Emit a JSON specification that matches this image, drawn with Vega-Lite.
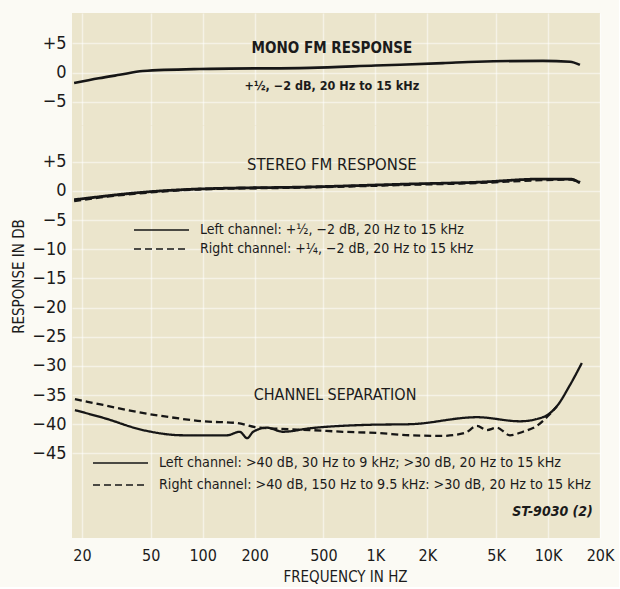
{
  "$schema": "https://vega.github.io/schema/vega-lite/v6.json",
  "background": "#fbfaf4",
  "padding": {"left": 10, "top": 13, "right": 5, "bottom": 3},
  "autosize": {"type": "pad"},
  "spacing": 0,
  "bounds": "flush",
  "config": {
    "view": {"stroke": null, "fill": "#ebe5cc"},
    "font": "DejaVu Sans Condensed",
    "axis": {
      "ticks": false,
      "domain": false,
      "labelColor": "#1b1b1b",
      "titleColor": "#1b1b1b",
      "labelFont": "DejaVu Sans Condensed",
      "titleFont": "DejaVu Sans Condensed",
      "gridColor": "#ffffff",
      "gridOpacity": 0.5,
      "gridWidth": 1.5
    },
    "text": {"font": "DejaVu Sans Condensed", "color": "#1b1b1b"},
    "legend": {
      "orient": "none",
      "title": null,
      "padding": 0,
      "symbolType": "stroke",
      "symbolSize": 3025,
      "symbolStrokeColor": "#161616",
      "symbolStrokeWidth": 1.6,
      "labelFont": "DejaVu Sans Condensed",
      "labelFontSize": 13,
      "labelColor": "#1b1b1b",
      "labelOffset": 10,
      "labelLimit": 0
    }
  },
  "datasets": {
    "mono": [
      {"freq": 18, "db": -1.8},
      {"freq": 25, "db": -1.0},
      {"freq": 33, "db": -0.4},
      {"freq": 45, "db": 0.25},
      {"freq": 96, "db": 0.6},
      {"freq": 418, "db": 0.8},
      {"freq": 1000, "db": 1.2},
      {"freq": 2460, "db": 1.6},
      {"freq": 3880, "db": 1.85},
      {"freq": 9340, "db": 2.0},
      {"freq": 13400, "db": 1.85},
      {"freq": 15300, "db": 1.3}
    ],
    "stereo": [
      {"channel": "Left", "freq": 18, "db": -1.5},
      {"channel": "Left", "freq": 25, "db": -1.0},
      {"channel": "Left", "freq": 40, "db": -0.35},
      {"channel": "Left", "freq": 96, "db": 0.35},
      {"channel": "Left", "freq": 418, "db": 0.7},
      {"channel": "Left", "freq": 1590, "db": 1.2},
      {"channel": "Left", "freq": 3880, "db": 1.5},
      {"channel": "Left", "freq": 9340, "db": 2.05},
      {"channel": "Left", "freq": 13400, "db": 2.05},
      {"channel": "Left", "freq": 15300, "db": 1.4},
      {"channel": "Right", "freq": 18, "db": -1.7},
      {"channel": "Right", "freq": 25, "db": -1.1},
      {"channel": "Right", "freq": 40, "db": -0.45},
      {"channel": "Right", "freq": 96, "db": 0.3},
      {"channel": "Right", "freq": 418, "db": 0.65},
      {"channel": "Right", "freq": 1590, "db": 1.1},
      {"channel": "Right", "freq": 3880, "db": 1.4},
      {"channel": "Right", "freq": 9340, "db": 1.9},
      {"channel": "Right", "freq": 13400, "db": 2.0},
      {"channel": "Right", "freq": 15300, "db": 1.5}
    ],
    "separation": [
      {"channel": "Left", "freq": 18.2, "db": -37.6},
      {"channel": "Left", "freq": 26.5, "db": -38.9},
      {"channel": "Left", "freq": 45, "db": -41.0},
      {"channel": "Left", "freq": 77, "db": -41.9},
      {"channel": "Left", "freq": 138, "db": -41.9},
      {"channel": "Left", "freq": 164, "db": -41.3},
      {"channel": "Left", "freq": 181, "db": -42.4},
      {"channel": "Left", "freq": 196, "db": -41.3},
      {"channel": "Left", "freq": 236, "db": -40.6},
      {"channel": "Left", "freq": 292, "db": -41.3},
      {"channel": "Left", "freq": 418, "db": -40.7},
      {"channel": "Left", "freq": 930, "db": -40.1},
      {"channel": "Left", "freq": 1590, "db": -40.0},
      {"channel": "Left", "freq": 3880, "db": -38.8},
      {"channel": "Left", "freq": 6880, "db": -39.5},
      {"channel": "Left", "freq": 9340, "db": -38.8},
      {"channel": "Left", "freq": 11260, "db": -36.9},
      {"channel": "Left", "freq": 13390, "db": -33.3},
      {"channel": "Left", "freq": 15700, "db": -29.5},
      {"channel": "Right", "freq": 18.2, "db": -35.7},
      {"channel": "Right", "freq": 26.5, "db": -36.7},
      {"channel": "Right", "freq": 41.6, "db": -37.9},
      {"channel": "Right", "freq": 64.7, "db": -38.8},
      {"channel": "Right", "freq": 100, "db": -39.5},
      {"channel": "Right", "freq": 158, "db": -39.8},
      {"channel": "Right", "freq": 201, "db": -40.5},
      {"channel": "Right", "freq": 280, "db": -40.8},
      {"channel": "Right", "freq": 418, "db": -41.0},
      {"channel": "Right", "freq": 649, "db": -41.3},
      {"channel": "Right", "freq": 1021, "db": -41.5},
      {"channel": "Right", "freq": 1586, "db": -41.9},
      {"channel": "Right", "freq": 2463, "db": -42.0},
      {"channel": "Right", "freq": 3302, "db": -41.5},
      {"channel": "Right", "freq": 3876, "db": -40.3},
      {"channel": "Right", "freq": 4426, "db": -41.0},
      {"channel": "Right", "freq": 5058, "db": -40.6},
      {"channel": "Right", "freq": 6016, "db": -41.9},
      {"channel": "Right", "freq": 7156, "db": -41.3},
      {"channel": "Right", "freq": 8622, "db": -40.3},
      {"channel": "Right", "freq": 9984, "db": -38.6},
      {"channel": "Right", "freq": 11258, "db": -36.9}
    ]
  },
  "vconcat": [
    {
      "width": 528,
      "height": 112,
      "layer": [
        {
          "data": {"name": "mono"},
          "mark": {"type": "line", "color": "#161616", "strokeWidth": 2.6, "interpolate": "monotone"},
          "encoding": {
            "x": {
              "field": "freq", "type": "quantitative",
              "scale": {"type": "log", "domain": [17.5, 20000], "nice": false},
              "axis": {"values": [20, 50, 100, 200, 500, 1000, 2000, 5000, 10000, 20000], "labels": false, "title": null, "grid": true}
            },
            "y": {
              "field": "db", "type": "quantitative",
              "scale": {"domain": [-9, 10.2], "nice": false, "zero": false},
              "axis": {
                "values": [5, 0, -5],
                "labelExpr": "datum.value > 0 ? '+' + datum.value : (datum.value < 0 ? '−' + abs(datum.value) : '0')",
                "title": null, "labelFontSize": 18, "labelPadding": 6, "minExtent": 62, "maxExtent": 62, "grid": true
              }
            }
          }
        },
        {
          "data": {"values": [{}]},
          "mark": {"type": "text", "fontWeight": "bold", "fontSize": 15, "align": "center", "baseline": "middle"},
          "encoding": {
            "x": {"datum": 560, "type": "quantitative"},
            "y": {"datum": 4.2, "type": "quantitative"},
            "text": {"value": "MONO FM RESPONSE"}
          }
        },
        {
          "data": {"values": [{}]},
          "mark": {"type": "text", "fontWeight": "bold", "fontSize": 12.5, "align": "center", "baseline": "middle"},
          "encoding": {
            "x": {"datum": 560, "type": "quantitative"},
            "y": {"datum": -2.3, "type": "quantitative"},
            "text": {"value": "+½, −2 dB, 20 Hz to 15 kHz"}
          }
        }
      ]
    },
    {
      "width": 528,
      "height": 413,
      "layer": [
        {
          "data": {"name": "stereo"},
          "mark": {"type": "line", "color": "#161616", "strokeWidth": 2.8, "interpolate": "monotone"},
          "encoding": {
            "x": {
              "field": "freq", "type": "quantitative",
              "scale": {"type": "log", "domain": [17.5, 20000], "nice": false},
              "axis": {
                "values": [20, 50, 100, 200, 500, 1000, 2000, 5000, 10000, 20000],
                "labelExpr": "datum.value >= 1000 ? (datum.value / 1000) + 'K' : datum.label",
                "labelFontSize": 16, "labelPadding": 9, "labelFlush": false, "grid": true,
                "title": "FREQUENCY IN HZ", "titleFontSize": 15, "titleFontWeight": "normal", "titlePadding": 6, "titleX": 273
              }
            },
            "y": {
              "field": "db", "type": "quantitative",
              "scale": {"domain": [-59.52, 11.32], "nice": false, "zero": false},
              "axis": {
                "values": [5, 0, -5, -10, -15, -20, -25, -30, -35, -40, -45],
                "labelExpr": "datum.value > 0 ? '+' + datum.value : (datum.value < 0 ? '−' + abs(datum.value) : '0')",
                "labelFontSize": 18, "labelPadding": 6, "minExtent": 62, "maxExtent": 62, "grid": true,
                "title": "RESPONSE IN DB", "titleFontSize": 15, "titleFontWeight": "normal",
                "titleX": -54, "titleY": 151, "titleAngle": -90, "titleAlign": "center", "titleBaseline": "middle"
              }
            },
            "strokeDash": {
              "field": "channel", "type": "nominal",
              "scale": {"domain": ["Left", "Right"], "range": [[1, 0], [7, 4]]},
              "legend": {
                "legendX": 61, "legendY": 96.5, "clipHeight": 17, "labelFontSize": 14,
                "labelExpr": "datum.label == 'Left' ? 'Left channel: +½, −2 dB, 20 Hz to 15 kHz' : 'Right channel: +¼, −2 dB, 20 Hz to 15 kHz'"
              }
            }
          }
        },
        {
          "data": {"name": "separation"},
          "mark": {"type": "line", "color": "#161616", "strokeWidth": 2.3, "interpolate": "monotone"},
          "encoding": {
            "x": {"field": "freq", "type": "quantitative"},
            "y": {"field": "db", "type": "quantitative"},
            "strokeDash": {
              "field": "channel", "type": "nominal",
              "scale": {"domain": ["Left", "Right"], "range": [[1, 0], [7, 4]]},
              "legend": {
                "legendX": 20, "legendY": 328, "clipHeight": 20, "labelFontSize": 14.2,
                "labelExpr": "datum.label == 'Left' ? 'Left channel: >40 dB, 30 Hz to 9 kHz;  >30 dB, 20 Hz to 15 kHz' : 'Right channel: >40 dB, 150 Hz to 9.5 kHz:  >30 dB, 20 Hz to 15 kHz'"
              }
            }
          }
        },
        {
          "data": {"values": [{}]},
          "mark": {"type": "text", "fontSize": 16.5, "align": "center", "baseline": "middle"},
          "encoding": {
            "x": {"datum": 560, "type": "quantitative"},
            "y": {"datum": 4.5, "type": "quantitative"},
            "text": {"value": "STEREO FM RESPONSE"}
          }
        },
        {
          "data": {"values": [{}]},
          "mark": {"type": "text", "fontSize": 16, "align": "center", "baseline": "middle"},
          "encoding": {
            "x": {"datum": 584, "type": "quantitative"},
            "y": {"datum": -35.0, "type": "quantitative"},
            "text": {"value": "CHANNEL SEPARATION"}
          }
        },
        {
          "data": {"values": [{}]},
          "mark": {"type": "text", "fontSize": 14, "fontWeight": "bold", "fontStyle": "italic", "align": "right", "baseline": "middle"},
          "encoding": {
            "x": {"datum": 18180, "type": "quantitative"},
            "y": {"datum": -55.1, "type": "quantitative"},
            "text": {"value": "ST-9030  (2)"}
          }
        }
      ],
      "resolve": {"scale": {"strokeDash": "independent"}, "legend": {"strokeDash": "independent"}}
    }
  ]
}
